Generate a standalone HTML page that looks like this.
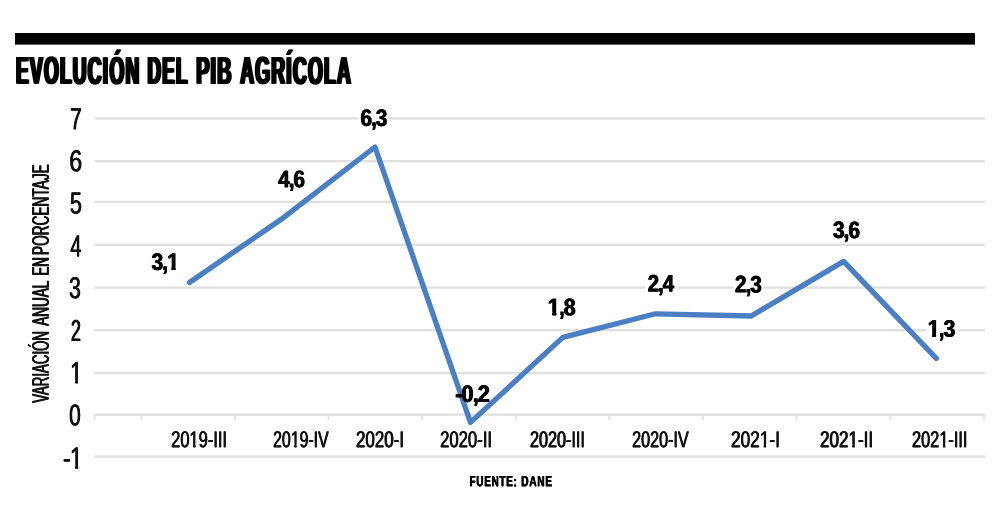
<!DOCTYPE html>
<html lang="es"><head><meta charset="utf-8"><title>Evolución del PIB agrícola</title>
<style>
html,body{margin:0;padding:0;background:#fff}
svg{display:block}
text{font-family:"Liberation Sans",sans-serif;fill:#111;text-rendering:geometricPrecision}
.b{font-weight:bold;fill:#000}
</style></head><body>
<svg width="1000" height="530" viewBox="0 0 1000 530">
<rect width="1000" height="530" fill="#fff"/>
<rect x="15" y="33" width="960" height="11.6" fill="#000"/>
<rect x="94.4" y="455.35" width="890.6" height="2.4" fill="#e0e0e0"/>
<rect x="94.4" y="413.45" width="890.6" height="2.4" fill="#e0e0e0"/>
<rect x="94.4" y="371.95" width="890.6" height="2.4" fill="#e0e0e0"/>
<rect x="94.4" y="328.95" width="890.6" height="2.4" fill="#e0e0e0"/>
<rect x="94.4" y="286.35" width="890.6" height="2.4" fill="#e0e0e0"/>
<rect x="94.4" y="243.55" width="890.6" height="2.4" fill="#e0e0e0"/>
<rect x="94.4" y="200.65" width="890.6" height="2.4" fill="#e0e0e0"/>
<rect x="94.4" y="159.95" width="890.6" height="2.4" fill="#e0e0e0"/>
<rect x="94.4" y="117.20" width="890.6" height="2.4" fill="#e0e0e0"/>
<rect x="358.5" y="116.35" width="31.0" height="4" fill="#fff" opacity="0.9"/>
<rect x="645" y="285.50" width="32" height="4" fill="#fff" opacity="0.9"/>
<rect x="733" y="285.50" width="31" height="4" fill="#fff" opacity="0.9"/>
<rect x="926.5" y="328.10" width="31.0" height="4" fill="#fff" opacity="0.9"/>
<rect x="93.4" y="414.60" width="2" height="5.5" fill="#e4e4e4"/>
<rect x="140.6" y="414.60" width="2" height="5.5" fill="#e4e4e4"/>
<rect x="234.0" y="414.60" width="2" height="5.5" fill="#e4e4e4"/>
<rect x="327.6" y="414.60" width="2" height="5.5" fill="#e4e4e4"/>
<rect x="421.2" y="414.60" width="2" height="5.5" fill="#e4e4e4"/>
<rect x="514.8" y="414.60" width="2" height="5.5" fill="#e4e4e4"/>
<rect x="608.4" y="414.60" width="2" height="5.5" fill="#e4e4e4"/>
<rect x="702.0" y="414.60" width="2" height="5.5" fill="#e4e4e4"/>
<rect x="795.6" y="414.60" width="2" height="5.5" fill="#e4e4e4"/>
<rect x="889.2" y="414.60" width="2" height="5.5" fill="#e4e4e4"/>
<rect x="983.0" y="414.60" width="2" height="5.5" fill="#e4e4e4"/>
<polyline points="189.5,282.5 283.5,217.7 375,147 470.5,422.4 562.8,337.4 655.5,313.8 751.2,316 843.6,261.4 936.3,358.4" fill="none" stroke="#4a7fc3" stroke-width="5.3" stroke-linecap="round" stroke-linejoin="round"/>
<text id="t0" class="b" letter-spacing="2.5" transform="matrix(1 0.002 0 1 16.00 83.78)" font-size="39" textLength="124.46" lengthAdjust="spacingAndGlyphs">EVOLUCIÓN</text><use href="#t0" x="-1.25"/><use href="#t0" x="1.25"/>
<text id="t1" class="b" letter-spacing="2.5" transform="matrix(1 0.002 0 1 147.60 83.86)" font-size="39" textLength="41.06" lengthAdjust="spacingAndGlyphs">DEL</text><use href="#t1" x="-1.25"/><use href="#t1" x="1.25"/>
<text id="t2" class="b" letter-spacing="2.5" transform="matrix(1 0.002 0 1 196.18 83.86)" font-size="39" textLength="36.65" lengthAdjust="spacingAndGlyphs">PIB</text><use href="#t2" x="-1.25"/><use href="#t2" x="1.25"/>
<text id="t3" class="b" letter-spacing="2.5" transform="matrix(1 0.002 0 1 240.18 83.79)" font-size="39" textLength="111.83" lengthAdjust="spacingAndGlyphs">AGRÍCOLA</text><use href="#t3" x="-1.25"/><use href="#t3" x="1.25"/>
<clipPath id="c4"><path clip-rule="evenodd" d="M0 0H1000V530H0Z M70.46 465.12H75.35V469.89H70.46Z M78.09 465.12H82.80V469.89H78.09Z"/></clipPath><g clip-path="url(#c4)"><text id="t4" transform="matrix(1 0.002 0 1 62.98 468.39)" font-size="30.5" textLength="19.74" lengthAdjust="spacingAndGlyphs">-<tspan dx="-1.0">1</tspan></text><use href="#t4" x="-0.4"/><use href="#t4" x="0.4"/></g>
<text id="t5" transform="matrix(1 0.002 0 1 69.14 425.47)" font-size="30.5" textLength="11.64" lengthAdjust="spacingAndGlyphs">0</text><use href="#t5" x="-0.4"/><use href="#t5" x="0.4"/>
<clipPath id="c6"><path clip-rule="evenodd" d="M0 0H1000V530H0Z M70.59 379.89H75.27V384.67H70.59Z M77.90 379.89H82.41V384.67H77.90Z"/></clipPath><g clip-path="url(#c6)"><text id="t6" transform="matrix(1 0.002 0 1 70.12 383.17)" font-size="30.5" textLength="12.16" lengthAdjust="spacingAndGlyphs">1</text><use href="#t6" x="-0.4"/><use href="#t6" x="0.4"/></g>
<text id="t7" transform="matrix(1 0.002 0 1 71.00 340.96)" font-size="30.5" textLength="9.87" lengthAdjust="spacingAndGlyphs">2</text><use href="#t7" x="-0.4"/><use href="#t7" x="0.4"/>
<text id="t8" transform="matrix(1 0.002 0 1 69.06 298.32)" font-size="30.5" textLength="11.73" lengthAdjust="spacingAndGlyphs">3</text><use href="#t8" x="-0.4"/><use href="#t8" x="0.4"/>
<text id="t9" transform="matrix(1 0.002 0 1 70.42 256.51)" font-size="30.5" textLength="10.98" lengthAdjust="spacingAndGlyphs">4</text><use href="#t9" x="-0.4"/><use href="#t9" x="0.4"/>
<text id="t10" transform="matrix(1 0.002 0 1 69.94 213.61)" font-size="30.5" textLength="12.01" lengthAdjust="spacingAndGlyphs">5</text><use href="#t10" x="-0.4"/><use href="#t10" x="0.4"/>
<text id="t11" transform="matrix(1 0.002 0 1 69.32 171.26)" font-size="30.5" textLength="12.83" lengthAdjust="spacingAndGlyphs">6</text><use href="#t11" x="-0.4"/><use href="#t11" x="0.4"/>
<text id="t12" transform="matrix(1 0.002 0 1 70.03 129.22)" font-size="30.5" textLength="11.61" lengthAdjust="spacingAndGlyphs">7</text><use href="#t12" x="-0.4"/><use href="#t12" x="0.4"/>
<text id="t13" transform="matrix(0.002 -1 1 0 48.70 402.79)" font-size="24" textLength="71.72" lengthAdjust="spacingAndGlyphs">VARIACIÓN</text><use href="#t13" y="-0.45"/><use href="#t13" y="0.45"/>
<text id="t14" transform="matrix(0.002 -1 1 0 48.70 325.78)" font-size="24" textLength="45.03" lengthAdjust="spacingAndGlyphs">ANUAL</text><use href="#t14" y="-0.45"/><use href="#t14" y="0.45"/>
<text id="t15" transform="matrix(0.002 -1 1 0 48.70 275.54)" font-size="24" textLength="18.41" lengthAdjust="spacingAndGlyphs">EN</text><use href="#t15" y="-0.45"/><use href="#t15" y="0.45"/>
<text id="t16" transform="matrix(0.002 -1 1 0 48.70 254.94)" font-size="24" textLength="90.69" lengthAdjust="spacingAndGlyphs">PORCENTAJE</text><use href="#t16" y="-0.45"/><use href="#t16" y="0.45"/>
<clipPath id="c17"><path clip-rule="evenodd" d="M0 0H1000V530H0Z M189.56 444.45H193.30V448.67H189.56Z M195.42 444.45H199.03V448.67H195.42Z"/></clipPath><g clip-path="url(#c17)"><text id="t17" transform="matrix(1 0.002 0 1 171.16 447.17)" font-size="23" textLength="55.88" lengthAdjust="spacingAndGlyphs">2019-III</text><use href="#t17" x="-0.38"/><use href="#t17" x="0.38"/></g>
<clipPath id="c18"><path clip-rule="evenodd" d="M0 0H1000V530H0Z M290.79 444.45H294.42V448.67H290.79Z M296.48 444.45H299.98V448.67H296.48Z"/></clipPath><g clip-path="url(#c18)"><text id="t18" transform="matrix(1 0.002 0 1 273.12 447.17)" font-size="23" textLength="55.54" lengthAdjust="spacingAndGlyphs">2019-IV</text><use href="#t18" x="-0.38"/><use href="#t18" x="0.38"/></g>
<text id="t19" transform="matrix(1 0.002 0 1 356.00 447.18)" font-size="23" textLength="48.02" lengthAdjust="spacingAndGlyphs">2020-I</text><use href="#t19" x="-0.38"/><use href="#t19" x="0.38"/>
<text id="t20" transform="matrix(1 0.002 0 1 440.14 447.17)" font-size="23" textLength="51.88" lengthAdjust="spacingAndGlyphs">2020-II</text><use href="#t20" x="-0.38"/><use href="#t20" x="0.38"/>
<text id="t21" transform="matrix(1 0.002 0 1 530.00 447.17)" font-size="23" textLength="54.88" lengthAdjust="spacingAndGlyphs">2020-III</text><use href="#t21" x="-0.38"/><use href="#t21" x="0.38"/>
<text id="t22" transform="matrix(1 0.002 0 1 632.08 447.17)" font-size="23" textLength="56.69" lengthAdjust="spacingAndGlyphs">2020-IV</text><use href="#t22" x="-0.38"/><use href="#t22" x="0.38"/>
<clipPath id="c23"><path clip-rule="evenodd" d="M0 0H1000V530H0Z M759.97 444.46H763.86V448.68H759.97Z M766.05 444.46H769.80V448.68H766.05Z"/></clipPath><g clip-path="url(#c23)"><text id="t23" transform="matrix(1 0.002 0 1 731.00 447.18)" font-size="23" textLength="49.02" lengthAdjust="spacingAndGlyphs">2021-I</text><use href="#t23" x="-0.38"/><use href="#t23" x="0.38"/></g>
<clipPath id="c24"><path clip-rule="evenodd" d="M0 0H1000V530H0Z M848.61 444.45H852.46V448.67H848.61Z M854.63 444.45H858.35V448.67H854.63Z"/></clipPath><g clip-path="url(#c24)"><text id="t24" transform="matrix(1 0.002 0 1 820.00 447.17)" font-size="23" textLength="53.18" lengthAdjust="spacingAndGlyphs">2021-II</text><use href="#t24" x="-0.38"/><use href="#t24" x="0.38"/></g>
<clipPath id="c25"><path clip-rule="evenodd" d="M0 0H1000V530H0Z M939.32 444.45H943.04V448.67H939.32Z M945.14 444.45H948.73V448.67H945.14Z"/></clipPath><g clip-path="url(#c25)"><text id="t25" transform="matrix(1 0.002 0 1 912.00 447.17)" font-size="23" textLength="55.41" lengthAdjust="spacingAndGlyphs">2021-III</text><use href="#t25" x="-0.38"/><use href="#t25" x="0.38"/></g>
<clipPath id="c26"><path clip-rule="evenodd" d="M0 0H1000V530H0Z M167.19 266.63H171.62V271.58H167.19Z M175.40 266.63H179.57V271.58H175.40Z"/></clipPath><g clip-path="url(#c26)"><text id="t26" class="b" transform="matrix(1 0.002 0 1 151.54 270.08)" font-size="24" textLength="27.33" lengthAdjust="spacingAndGlyphs">3<tspan dx="-1.1">,</tspan><tspan dx="-1.1">1</tspan></text><use href="#t26" x="-0.5"/><use href="#t26" x="0.5"/></g>
<text id="t27" class="b" transform="matrix(1 0.002 0 1 278.19 187.24)" font-size="24" textLength="26.75" lengthAdjust="spacingAndGlyphs">4<tspan dx="-1.1">,</tspan><tspan dx="-1.1">6</tspan></text><use href="#t27" x="-0.5"/><use href="#t27" x="0.5"/>
<text id="t28" class="b" transform="matrix(1 0.002 0 1 360.40 126.05)" font-size="24" textLength="27.05" lengthAdjust="spacingAndGlyphs">6<tspan dx="-1.1">,</tspan><tspan dx="-1.1">3</tspan></text><use href="#t28" x="-0.5"/><use href="#t28" x="0.5"/>
<text id="t29" class="b" transform="matrix(1 0.002 0 1 455.30 401.90)" font-size="24" textLength="34.46" lengthAdjust="spacingAndGlyphs">-<tspan dx="-1.0">0</tspan><tspan dx="-1.1">,</tspan><tspan dx="-1.1">2</tspan></text><use href="#t29" x="-0.5"/><use href="#t29" x="0.5"/>
<clipPath id="c30"><path clip-rule="evenodd" d="M0 0H1000V530H0Z M547.91 311.87H552.42V316.82H547.91Z M556.27 311.87H560.50V316.82H556.27Z"/></clipPath><g clip-path="url(#c30)"><text id="t30" class="b" transform="matrix(1 0.002 0 1 547.86 315.32)" font-size="24" textLength="27.88" lengthAdjust="spacingAndGlyphs">1<tspan dx="-1.1">,</tspan><tspan dx="-1.1">8</tspan></text><use href="#t30" x="-0.5"/><use href="#t30" x="0.5"/></g>
<text id="t31" class="b" transform="matrix(1 0.002 0 1 647.64 291.48)" font-size="24" textLength="26.48" lengthAdjust="spacingAndGlyphs">2<tspan dx="-1.1">,</tspan><tspan dx="-1.1">4</tspan></text><use href="#t31" x="-0.5"/><use href="#t31" x="0.5"/>
<text id="t32" class="b" transform="matrix(1 0.002 0 1 735.00 292.36)" font-size="24" textLength="26.81" lengthAdjust="spacingAndGlyphs">2<tspan dx="-1.1">,</tspan><tspan dx="-1.1">3</tspan></text><use href="#t32" x="-0.5"/><use href="#t32" x="0.5"/>
<text id="t33" class="b" transform="matrix(1 0.002 0 1 833.00 238.10)" font-size="24" textLength="26.92" lengthAdjust="spacingAndGlyphs">3<tspan dx="-1.1">,</tspan><tspan dx="-1.1">6</tspan></text><use href="#t33" x="-0.5"/><use href="#t33" x="0.5"/>
<clipPath id="c34"><path clip-rule="evenodd" d="M0 0H1000V530H0Z M927.78 333.27H932.26V338.22H927.78Z M936.08 333.27H940.29V338.22H936.08Z"/></clipPath><g clip-path="url(#c34)"><text id="t34" class="b" transform="matrix(1 0.002 0 1 927.74 336.72)" font-size="24" textLength="27.65" lengthAdjust="spacingAndGlyphs">1<tspan dx="-1.1">,</tspan><tspan dx="-1.1">3</tspan></text><use href="#t34" x="-0.5"/><use href="#t34" x="0.5"/></g>
<text id="t35" class="b" letter-spacing="0.9" transform="matrix(1 0.002 0 1 469.54 486.29)" font-size="15" textLength="47.90" lengthAdjust="spacingAndGlyphs">FUENTE:</text><use href="#t35" x="-0.3"/><use href="#t35" x="0.3"/>
<text id="t36" class="b" letter-spacing="0.9" transform="matrix(1 0.002 0 1 521.15 486.30)" font-size="15" textLength="31.55" lengthAdjust="spacingAndGlyphs">DANE</text><use href="#t36" x="-0.3"/><use href="#t36" x="0.3"/>
</svg>
</body></html>
